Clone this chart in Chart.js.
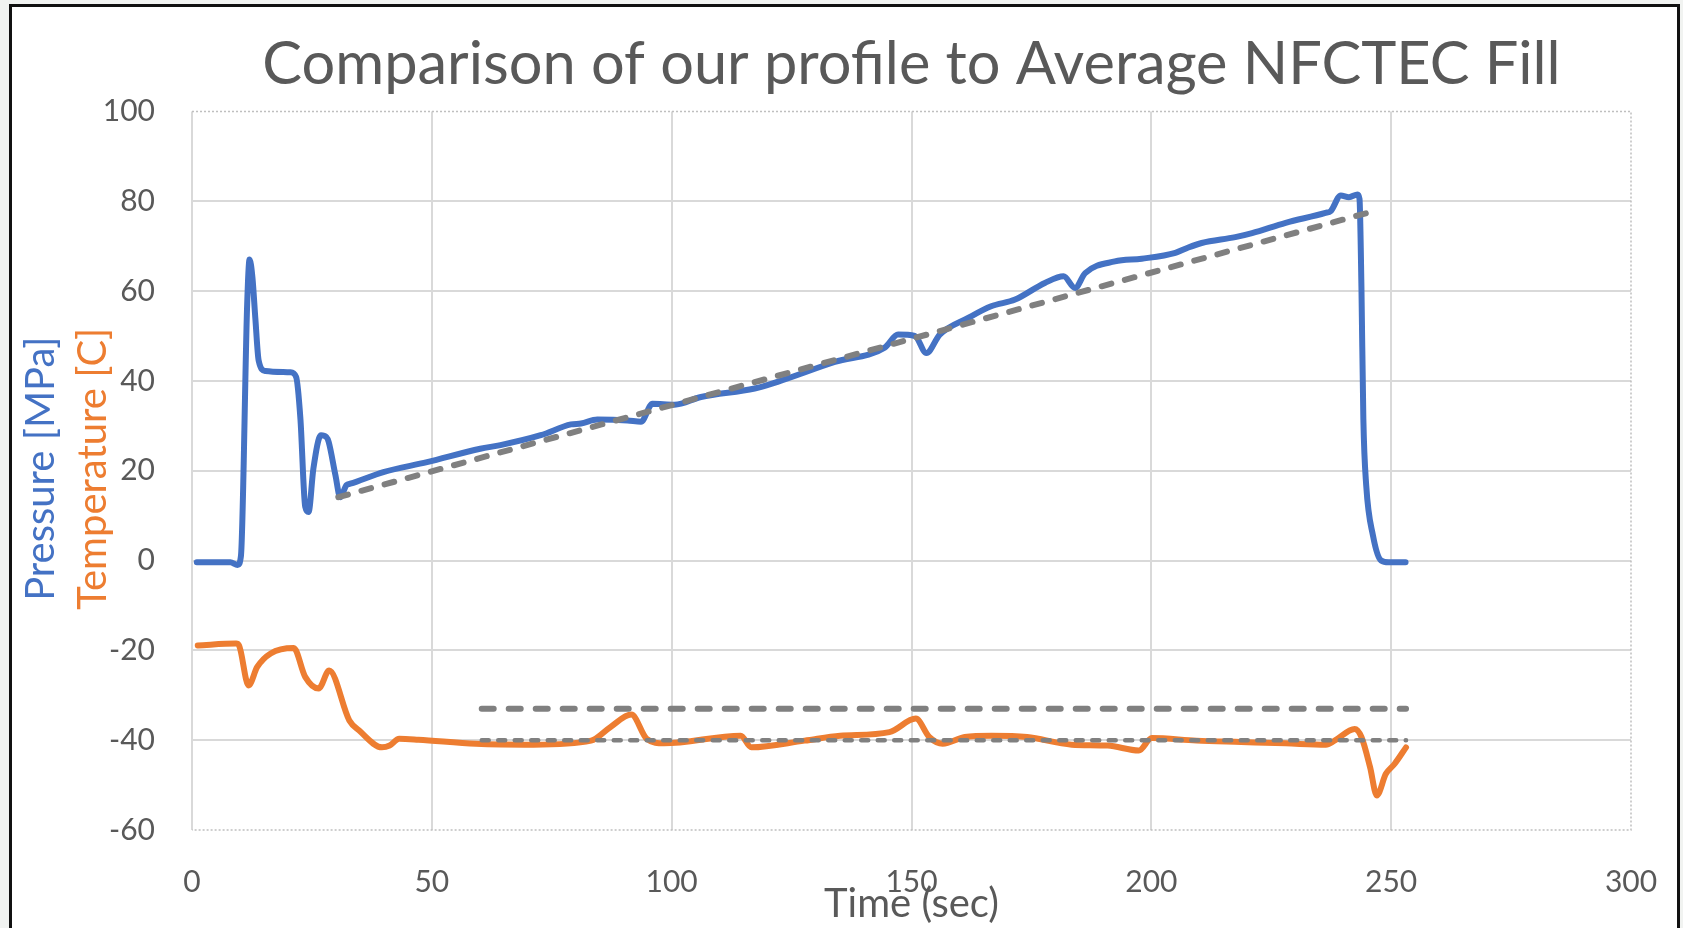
<!DOCTYPE html>
<html>
<head>
<meta charset="utf-8">
<script src="https://cdn.jsdelivr.net/npm/chart.js@4.4.1/dist/chart.umd.min.js"></script>
<style>
  html, body { margin: 0; padding: 0; background: #f1f3f1; overflow: hidden; }
  #frame { position: absolute; left: 9px; top: 4px; width: 1665px; height: 940px; border: 3px solid #111; background: #fff; }
  #wrap { position: absolute; left: 0; top: 0; width: 1683px; height: 928px; }
</style>
</head>
<body>
<div id="frame"></div>
<div id="wrap"><canvas id="fill-chart" width="1683" height="928"></canvas></div>
<script>
// pressure profile (MPa) vs time (sec)
const pressureTime = [1, 8, 9.5, 10.2, 11.5, 12.0, 12.6, 13.2, 13.9, 15.3, 20.5, 21.7, 22.6, 23.6, 24.3, 25.3, 26.9, 28.0, 28.5, 29.9, 30.9, 32.2, 33, 39.9, 49, 60.1, 64.3, 72.7, 79, 81.1, 84.5, 90.8, 93.6, 96, 100.6, 106.1, 117.3, 122.1, 134, 144.4, 147.2, 150.7, 153.1, 155.9, 161.8, 166.6, 171.6, 177.8, 181.7, 184.1, 186.2, 192.4, 198, 205, 207.7, 210.5, 217.5, 221, 228, 236.3, 237.4, 239.5, 241.2, 243, 243.4, 243.8, 244.2, 244.8, 246.2, 247.9, 249.5, 253];
const pressureValue = [-0.4, -0.4, -1, 1, 57, 67, 63, 54, 44.5, 42.2, 41.9, 40.9, 31.6, 12, 10.8, 20.4, 27.9, 27.5, 26.4, 19, 14.1, 16.8, 17.1, 19.7, 21.9, 24.9, 25.7, 27.9, 30.3, 30.5, 31.4, 31.2, 30.9, 34.9, 34.7, 36.4, 38.3, 39.8, 44.2, 47.4, 50.3, 50.0, 46.2, 50.3, 54, 56.6, 58.1, 61.8, 63.3, 60.7, 64, 66.6, 67.2, 68.5, 69.7, 70.7, 72, 72.9, 75.2, 77.4, 77.8, 81.3, 80.9, 81.5, 80.5, 61, 31.6, 16.7, 5.6, 0, -0.4, -0.4];

// temperature profile (C) vs time (sec)
const tempTime = [1.2, 9.2, 9.8, 11.8, 13.6, 16.4, 21.2, 23.6, 26.4, 28.6, 32.8, 34.8, 39.6, 41.2, 43.2, 47.2, 59.2, 71.2, 83.2, 87.2, 91.6, 94.8, 98.4, 114.4, 116.6, 127.7, 135.1, 145.4, 150.9, 153.7, 156.5, 161.1, 166.7, 174.1, 183.4, 190.9, 197.4, 200.1, 209.4, 218.7, 228, 236.4, 238.2, 242.4, 243.8, 245.6, 247, 248.9, 250.7, 253.1];
const tempValue = [-18.9, -18.5, -18.9, -27.8, -23.7, -20.7, -19.5, -25.9, -28.5, -24.5, -35.6, -37.8, -41.6, -41.2, -39.7, -39.9, -40.8, -41.0, -40.1, -37.1, -34.3, -39.7, -40.7, -39.0, -41.6, -40.1, -39, -38.2, -35.2, -39.3, -40.8, -39.3, -39, -39.3, -41, -41.2, -42.3, -39.5, -40.1, -40.4, -40.7, -41, -40.1, -37.5, -39.3, -46, -52.3, -47.5, -45.3, -41.6];

// average NFCTEC fill reference lines
const rampTime = [30.5, 247.4];
const rampValue = [14.1, 78.1];
const bandTime = [60.4, 253.1];
const bandUpper = [-33, -33];
const bandLower = [-40, -40];

const xTicks = [0, 50, 100, 150, 200, 250, 300];
const yTicks = [-60, -40, -20, 0, 20, 40, 60, 80, 100];

const toPoints = (xs, ys) => xs.map((x, i) => ({ x: x, y: ys[i] }));

const tickColor = '#595959';
const gridColor = '#d9d9d9';

const plotFrame = {
  id: 'plotFrame',
  beforeDatasetsDraw(chart) {
    const { ctx, chartArea: a } = chart;
    ctx.save();
    ctx.strokeStyle = '#bfbfbf';
    ctx.lineWidth = 1.5;
    ctx.setLineDash([2, 2]);
    ctx.beginPath();
    ctx.moveTo(a.left, a.top);
    ctx.lineTo(a.right, a.top);
    ctx.lineTo(a.right, a.bottom);
    ctx.lineTo(a.left, a.bottom);
    ctx.stroke();
    ctx.restore();
  }
};

const yTitles = {
  id: 'yTitles',
  afterDraw(chart) {
    const ctx = chart.ctx;
    const mid = (chart.chartArea.top + chart.chartArea.bottom) / 2;
    ctx.save();
    ctx.font = '40px Lato';
    ctx.textAlign = 'center';
    ctx.textBaseline = 'alphabetic';
    ctx.translate(54, mid - 2);
    ctx.rotate(-Math.PI / 2);
    ctx.fillStyle = '#4472C4';
    ctx.fillText('Pressure [MPa]', 0, 0);
    ctx.fillStyle = '#ED7D31';
    ctx.fillText('Temperature [C]', 0, 52);
    ctx.restore();
  }
};

const ctx = document.getElementById('fill-chart');
new Chart(ctx, {
  type: 'line',
  data: {
    datasets: [
      {
        label: 'Average NFCTEC pressure',
        data: toPoints(rampTime, rampValue),
        borderColor: '#808080',
        borderWidth: 6,
        borderDash: [10, 14],
        borderCapStyle: 'round',
        pointRadius: 0
      },
      {
        label: 'Average NFCTEC temp upper',
        data: toPoints(bandTime, bandUpper),
        borderColor: '#808080',
        borderWidth: 6,
        borderDash: [12, 15],
        borderCapStyle: 'round',
        pointRadius: 0
      },
      {
        label: 'Average NFCTEC temp lower',
        data: toPoints(bandTime, bandLower),
        borderColor: '#808080',
        borderWidth: 4.5,
        borderDash: [7, 9.5],
        borderCapStyle: 'round',
        pointRadius: 0
      },
      {
        label: 'Pressure',
        data: toPoints(pressureTime, pressureValue),
        borderColor: '#4472C4',
        borderWidth: 6,
        cubicInterpolationMode: 'monotone',
        borderCapStyle: 'round',
        borderJoinStyle: 'round',
        pointRadius: 0
      },
      {
        label: 'Temperature',
        data: toPoints(tempTime, tempValue),
        borderColor: '#ED7D31',
        borderWidth: 6,
        cubicInterpolationMode: 'monotone',
        borderCapStyle: 'round',
        borderJoinStyle: 'round',
        pointRadius: 0
      }
    ]
  },
  options: {
    responsive: false,
    animation: false,
    devicePixelRatio: 1,
    layout: { padding: { left: 42, right: 52, top: 0, bottom: 0 } },
    plugins: {
      legend: { display: false },
      tooltip: { enabled: false },
      title: {
        display: true,
        fullSize: false,
        text: 'Comparison of our profile to Average NFCTEC Fill',
        color: tickColor,
        font: { family: 'Lato', size: 59.5, weight: 'normal' },
        padding: { top: 29, bottom: 11 }
      }
    },
    scales: {
      x: {
        type: 'linear',
        min: 0,
        max: 300,
        afterBuildTicks: (s) => { s.ticks = xTicks.map(v => ({ value: v })); },
        afterFit: (s) => { s.height = 98; },
        grid: {
          color: (c) => (c.tick && c.tick.value === 300 ? 'rgba(0,0,0,0)' : gridColor),
          lineWidth: 2,
          drawTicks: true,
          tickLength: 32,
          tickColor: 'rgba(0,0,0,0)'
        },
        border: { display: false },
        ticks: { color: tickColor, font: { family: 'Lato', size: 30 }, padding: 2 },
        title: {
          display: true,
          text: 'Time (sec)',
          color: tickColor,
          font: { family: 'Lato', size: 40 },
          padding: { top: 0, bottom: 0 }
        }
      },
      y: {
        min: -60,
        max: 100,
        afterBuildTicks: (s) => { s.ticks = yTicks.map(v => ({ value: v })); },
        afterFit: (s) => { s.width = 150; },
        grid: {
          color: (c) => (c.tick && (c.tick.value === 100 || c.tick.value === -60) ? 'rgba(0,0,0,0)' : gridColor),
          lineWidth: 2,
          drawTicks: false
        },
        border: { display: false },
        ticks: { color: tickColor, font: { family: 'Lato', size: 30 }, padding: 37 }
      }
    }
  },
  plugins: [plotFrame, yTitles]
});
</script>
</body>
</html>
